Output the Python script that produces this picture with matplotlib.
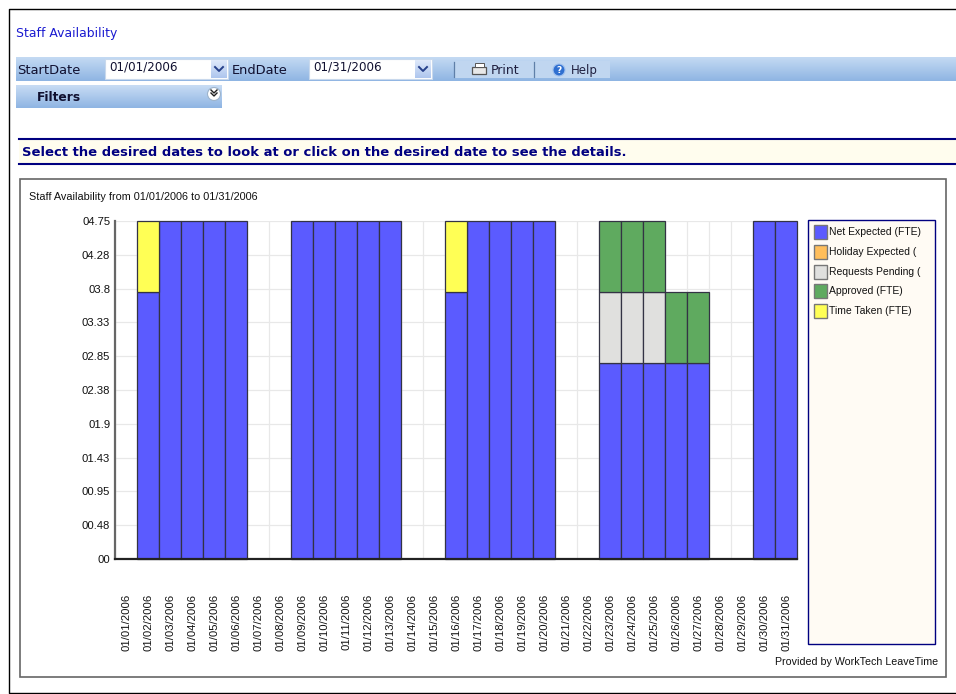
import numpy as np
import matplotlib
matplotlib.use("Agg")
import matplotlib.pyplot as plt
from matplotlib.patches import Rectangle, Circle
from matplotlib.transforms import ScaledTranslation

W, H = 956, 694

dates = ["01/%02d/2006" % d for d in range(1, 32)]
net_expected = [0, 3.75, 4.75, 4.75, 4.75, 4.75, 0, 0, 4.75, 4.75, 4.75, 4.75, 4.75, 0, 0, 3.75,
                4.75, 4.75, 4.75, 4.75, 0, 0, 2.75, 2.75, 2.75, 2.75, 2.75, 0, 0, 4.75, 4.75]
holiday_expected = [0] * 31
requests_pending = [0] * 22 + [1, 1, 1] + [0] * 6
approved = [0] * 22 + [1, 1, 1, 1, 1] + [0] * 4
time_taken = [0, 1] + [0] * 13 + [1] + [0] * 15

ytick_values = [0, 0.475, 0.95, 1.425, 1.9, 2.375, 2.85, 3.325, 3.8, 4.275, 4.75]
ytick_labels = ["00", "00.48", "00.95", "01.43", "01.9", "02.38", "02.85", "03.33", "03.8", "04.28", "04.75"]

series_names = ["Net Expected (FTE)", "Holiday Expected (", "Requests Pending (", "Approved (FTE)", "Time Taken (FTE)"]
series_colors = ["#5B5BFF", "#FFBE5A", "#E0E0DE", "#5FAA5F", "#FFFF55"]

navy = "#000080"
fig = plt.figure(figsize=(W / 100, H / 100), dpi=100, facecolor="white")

# page chrome, drawn in pixel coordinates
bg = fig.add_axes([0, 0, 1, 1])
bg.axis("off")


def gradient(x0, y0, x1, y1, top, bottom, z=1):
    c0 = np.array(matplotlib.colors.to_rgb(top))
    c1 = np.array(matplotlib.colors.to_rgb(bottom))
    t = np.linspace(0, 1, 32)[:, None, None]
    img = c0[None, None, :] * (1 - t) + c1[None, None, :] * t
    bg.imshow(img, extent=[x0, x1, y1, y0], aspect="auto", interpolation="bilinear", zorder=z)


def rect(x0, y0, x1, y1, fc="none", ec="none", lw=1.0, z=2):
    bg.add_patch(Rectangle((x0, y0), x1 - x0, y1 - y0, fc=fc, ec=ec, lw=lw, zorder=z))


# outer frame
bg.plot([956, 9, 9, 956], [9, 9, 693, 693], color="black", lw=1.0, zorder=2)

ui = dict(family="DejaVu Sans", va="center", zorder=6)
bg.text(16, 33, "Staff Availability", color="#1a1ad0", fontsize=8.9, **ui)

# toolbar
gradient(16, 57, 956, 81, "#c4daf3", "#8fb5e3")
rect(455, 61, 610, 78, fc="#c0d6f0", z=2)
bg.text(17, 70, "StartDate", color="#101030", fontsize=9.4, **ui)
for x0, label in [(105, "01/01/2006"), (309, "01/31/2006")]:
    rect(x0, 59, x0 + 123, 79, fc="white", ec="#c8d8ec", lw=0.8, z=3)
    gradient(x0 + 106, 60, x0 + 122, 78, "#dfe9fa", "#aec6ee", z=4)
    bg.plot([x0 + 110, x0 + 114, x0 + 118], [67, 71, 67], color="#26408a", lw=1.4, zorder=5)
    bg.text(x0 + 4, 67, label, color="#101030", fontsize=8.6, **ui)
bg.text(232, 70, "EndDate", color="#101030", fontsize=9.4, **ui)
bg.plot([454, 454], [62, 77], color="#5f7fa8", lw=0.9, zorder=4)
bg.plot([534, 534], [62, 77], color="#5f7fa8", lw=0.9, zorder=4)
rect(472, 67, 486, 74, fc="#e8e8e8", ec="#555555", lw=0.9, z=4)
rect(475, 63, 484, 67, fc="white", ec="#555555", lw=0.7, z=4)
bg.text(491, 70.5, "Print", color="#202040", fontsize=9, **ui)
bg.add_patch(Circle((559, 70), 6, fc="#2f6fd0", ec="#9fc0ee", lw=0.8, zorder=4))
bg.text(559, 70, "?", color="white", fontsize=6.5, ha="center", fontweight="bold", **ui)
bg.text(571, 70.5, "Help", color="#202040", fontsize=8.5, **ui)

# filters bar
gradient(16, 85, 222, 108, "#c8dcf4", "#8fb5e3")
bg.text(37, 97, "Filters", color="#101030", fontsize=8.8, fontweight="bold", **ui)
bg.add_patch(Circle((214, 94), 6.5, fc="white", ec="#9db4cc", lw=0.8, zorder=4))
for dy in [-2.5, 0.5]:
    bg.plot([211, 214, 217], [91 + dy + 1.5, 94 + dy + 1.5, 91 + dy + 1.5], color="#202020", lw=1.0, zorder=5)

# instruction banner
rect(19, 139, W, 163, fc="#fffdee", z=1)
bg.plot([19, W], [139, 139], color=navy, lw=1.5, zorder=3)
bg.plot([19, W], [163.5, 163.5], color=navy, lw=1.5, zorder=3)
bg.text(22, 152, "Select the desired dates to look at or click on the desired date to see the details.",
        color=navy, fontsize=9.46, fontweight="bold", **ui)

# chart panel
rect(20, 179, 946, 677, fc="white", ec="#666666", lw=1.2, z=1)
chart = dict(family="Liberation Sans", color="#111111", zorder=5)
bg.text(29, 197, "Staff Availability from 01/01/2006 to 01/31/2006", fontsize=7.8, va="center", **chart)
bg.text(938, 662, "Provided by WorkTech LeaveTime", fontsize=7.7, va="center", ha="right", **chart)

# legend panel
rect(808.5, 219.5, 935, 643.5, fc="#fffbf4", ec=navy, lw=1.0, z=2)
for i, (name, color) in enumerate(zip(series_names, series_colors)):
    y = 232 + i * 19.8
    rect(814, y - 7, 827, y + 7, fc=color, ec="#777777", lw=1.0, z=3)
    bg.text(829.5, y, name, fontsize=7.5, va="center", **chart)

bg.set_xlim(0, W)
bg.set_ylim(H, 0)

# the bar chart itself
ax = fig.add_axes([115 / W, 1 - 559 / H, (797 - 115) / W, (559 - 221) / H])
ax.set_zorder(3)
ax.patch.set_alpha(0)
x = np.arange(len(dates))
bottom = np.zeros(len(dates))
for values, color in zip([net_expected, holiday_expected, requests_pending, approved, time_taken], series_colors):
    values = np.array(values, dtype=float)
    keep = values > 0
    ax.bar(x[keep], values[keep], 1.0, bottom=bottom[keep], color=color, edgecolor="#333344", linewidth=0.9, zorder=3, clip_on=False)
    bottom += values

ax.set_xlim(-0.5, 30.5)
ax.set_ylim(0, 4.75)
ax.set_xticks(x)
ax.set_xticklabels(dates, rotation=90, family="Liberation Sans", fontsize=8.1, color="#111111")
shift = ScaledTranslation(1.5 / 100, 0, fig.dpi_scale_trans)
for lab in ax.get_xticklabels():
    lab.set_transform(lab.get_transform() + shift)
ax.set_yticks(ytick_values)
ax.set_yticklabels(ytick_labels, family="Liberation Sans", fontsize=8.1, color="#111111")
ax.set_xticks(np.arange(-0.5, 31, 1), minor=True)
ax.tick_params(axis="x", which="major", length=0, pad=25)
ax.tick_params(axis="x", which="minor", length=0)
ax.tick_params(axis="y", length=0, pad=3.5)
ax.grid(True, which="minor", axis="x", color="#e8e8e8", lw=0.9, zorder=0)
ax.grid(True, which="major", axis="y", color="#e8e8e8", lw=0.9, zorder=0)
ax.set_axisbelow(True)
for side in ["top", "right"]:
    ax.spines[side].set_visible(False)
ax.spines["left"].set_color("#666666")
ax.spines["left"].set_linewidth(1.6)
ax.spines["bottom"].set_color("#222222")
ax.spines["bottom"].set_linewidth(1.6)
ax.spines["bottom"].set_zorder(5)

fig.savefig("out.png", dpi=100)
